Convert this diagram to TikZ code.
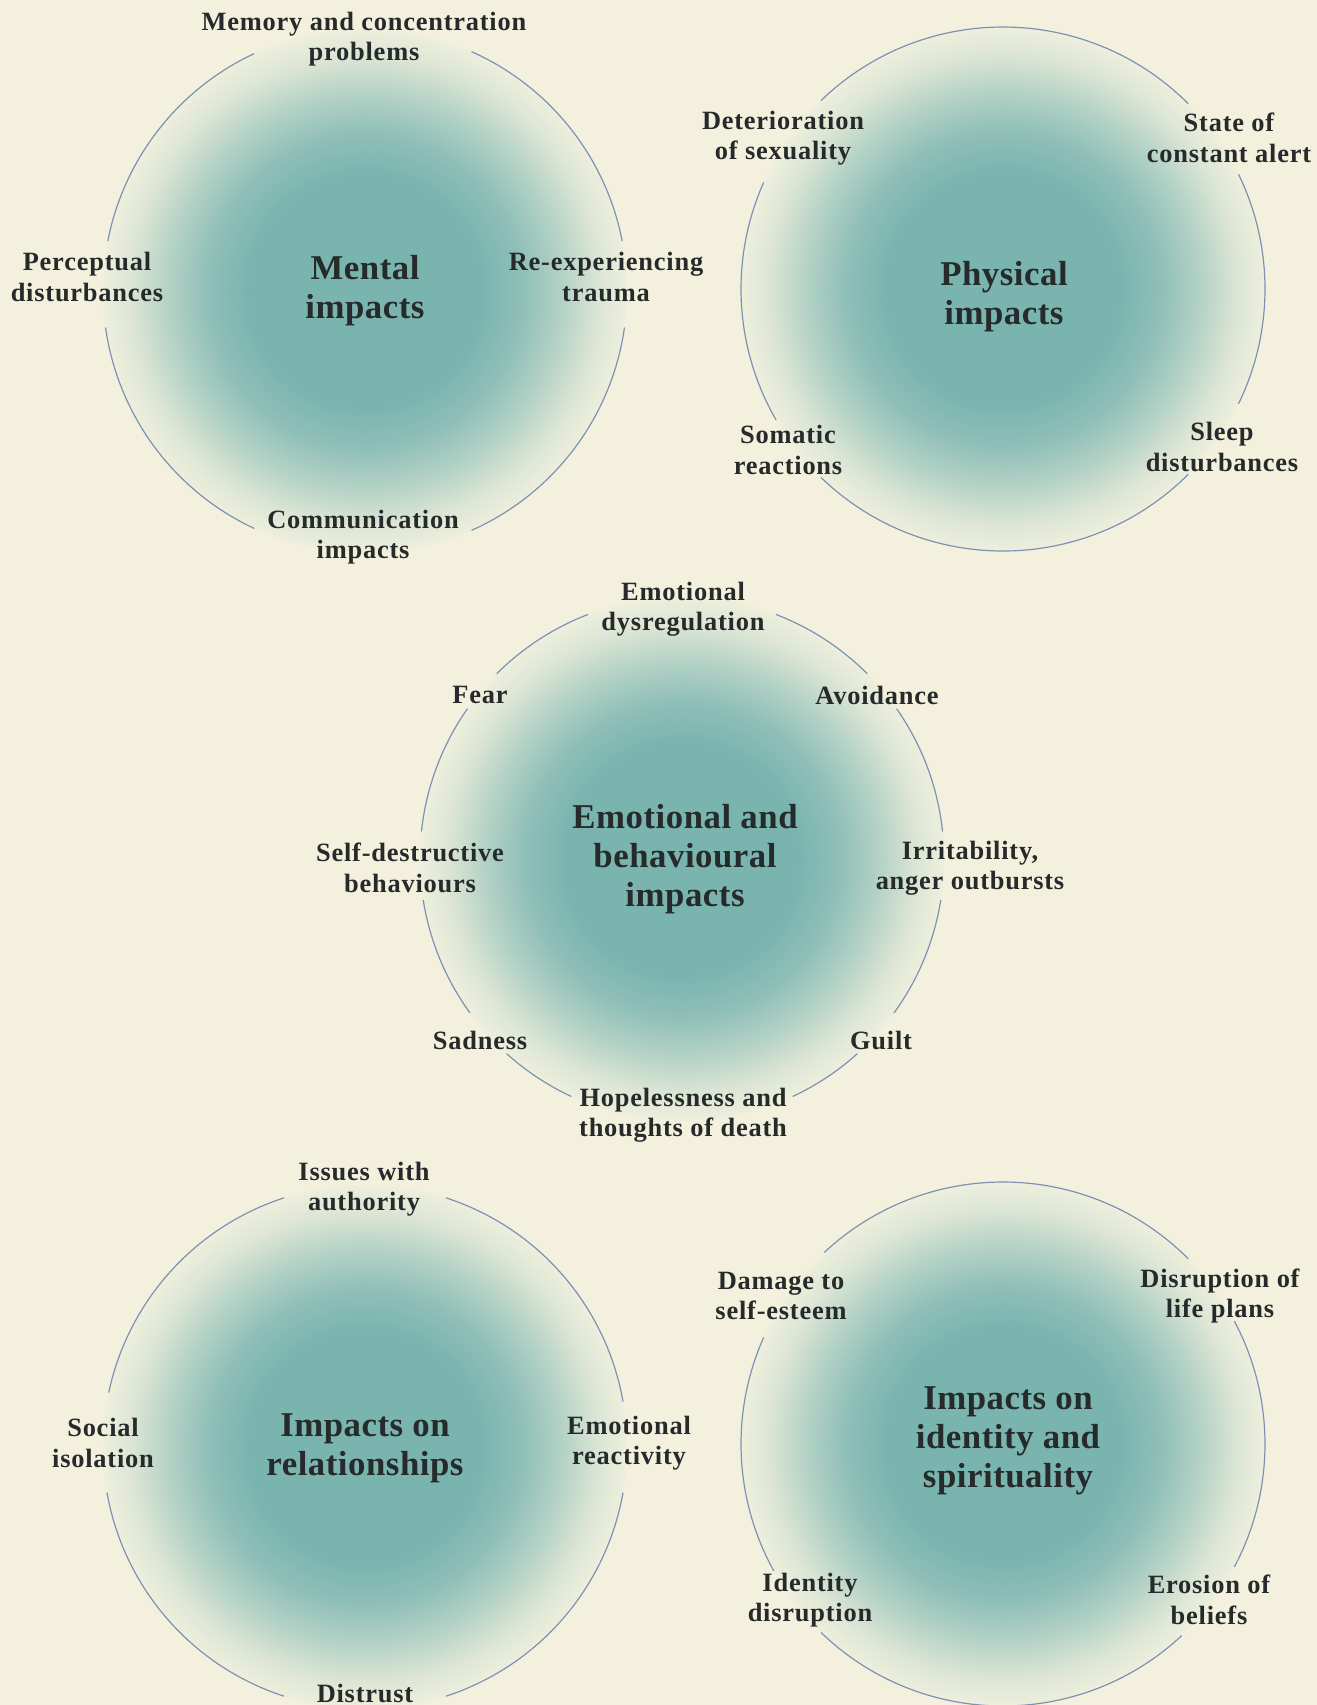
\documentclass[tikz,border=0pt]{standalone}
\usepackage{fontspec}
\setmainfont{Liberation Serif}
\usetikzlibrary{calc}
\definecolor{cream}{RGB}{243,241,222}
\definecolor{tealc}{RGB}{121,180,175}
\definecolor{ringc}{RGB}{124,146,180}
\definecolor{inkc}{RGB}{38,42,42}
\pgfdeclareradialshading{blob}{\pgfpoint{0bp}{0bp}}{%
  color(0bp)=(tealc);
  color(11bp)=(tealc);
  color(15bp)=(tealc!82!cream);
  color(19bp)=(tealc!50!cream);
  color(22.5bp)=(tealc!18!cream);
  color(25bp)=(tealc!4!cream);
  color(50bp)=(cream)}
\newcommand\ringR{131pt}
\newcommand\ringarcs[2]{%
  \foreach \aa/\bb in {#2}{%
    \draw[ring] ($(#1)+(\aa:\ringR)$) arc[start angle=\aa, end angle=\bb, radius=\ringR];}}
\begin{document}
\begin{tikzpicture}[x=0.5pt,y=-0.5pt,
  ring/.style={draw=ringc, line width=0.6pt},
  lbl/.style={text=inkc, font=\bfseries\fontsize{13.2}{15.2}\selectfont\addfontfeature{LetterSpace=3}, align=center, inner sep=1pt},
  ttl/.style={text=inkc, font=\bfseries\fontsize{17.4}{19.4}\selectfont\addfontfeature{LetterSpace=1.5}, align=center, inner sep=1pt}]
\fill[cream] (0,0) rectangle (1317,1705);
\useasboundingbox (0,0) rectangle (1317,1705);
% centres
\coordinate (c1) at (365,291);
\coordinate (c2) at (1003,289);
\coordinate (c3) at (682,859);
\coordinate (c4) at (365,1447);
\coordinate (c5) at (1003,1444);
% blobs
\foreach \c in {c1,c2,c3,c4,c5}{\shade[shading=blob] (\c) circle[radius=\ringR];}
% rings
\ringarcs{c1}{11/66, 115/169, 188/245, 294/352}
\ringarcs{c2}{45/134, 156/210, 226/315, 334/386}
\ringarcs{c3}{6/35, 45/69, 111/135, 145/174, 189/216, 228/245, 295/312, 324/351}
\ringarcs{c4}{10/72, 108/168, 190/252, 288/350}
\ringarcs{c5}{45/133, 156/209, 226/313, 332/388}
% Mental
\node[ttl] (t1) at (365,291) {Mental\\impacts};
\node[lbl] (m1) at (364,39) {Memory and concentration\\problems};
\node[lbl] (m2) at (87,277) {Perceptual\\disturbances};
\node[lbl] (m3) at (606,277) {Re-experiencing\\trauma};
\node[lbl] (m4) at (363,537) {Communication\\impacts};
% Physical
\node[ttl] (t2) at (1004,297) {Physical\\impacts};
\node[lbl] (p1) at (783,138) {Deterioration\\of sexuality};
\node[lbl] (p2) at (1229,138) {State of\\constant alert};
\node[lbl] (p3) at (788,450) {Somatic\\reactions};
\node[lbl] (p4) at (1222,447) {Sleep\\disturbances};
% Emotional
\node[ttl] (t3) at (685,859) {Emotional and\\behavioural\\impacts};
\node[lbl] (e1) at (683,609) {Emotional\\dysregulation};
\node[lbl] (e2) at (480,695) {Fear};
\node[lbl] (e3) at (877,695) {Avoidance};
\node[lbl] (e4) at (410,868) {Self-destructive\\behaviours};
\node[lbl] (e5) at (970,868) {Irritability,\\anger outbursts};
\node[lbl] (e6) at (480,1040) {Sadness};
\node[lbl] (e7) at (881,1040) {Guilt};
\node[lbl] (e8) at (683,1115) {Hopelessness and\\thoughts of death};
% Relationships
\node[ttl] (t4) at (365,1448) {Impacts on\\relationships};
\node[lbl] (r1) at (364,1189) {Issues with\\authority};
\node[lbl] (r2) at (103,1443) {Social\\isolation};
\node[lbl] (r3) at (629,1443) {Emotional\\reactivity};
\node[lbl] (r4) at (365,1693) {Distrust};
% Identity
\node[ttl] (t5) at (1008,1441) {Impacts on\\identity and\\spirituality};
\node[lbl] (i1) at (781,1296) {Damage to\\self-esteem};
\node[lbl] (i2) at (1220,1296) {Disruption of\\life plans};
\node[lbl] (i3) at (810,1600) {Identity\\disruption};
\node[lbl] (i4) at (1209,1600) {Erosion of\\beliefs};
\end{tikzpicture}
\end{document}
